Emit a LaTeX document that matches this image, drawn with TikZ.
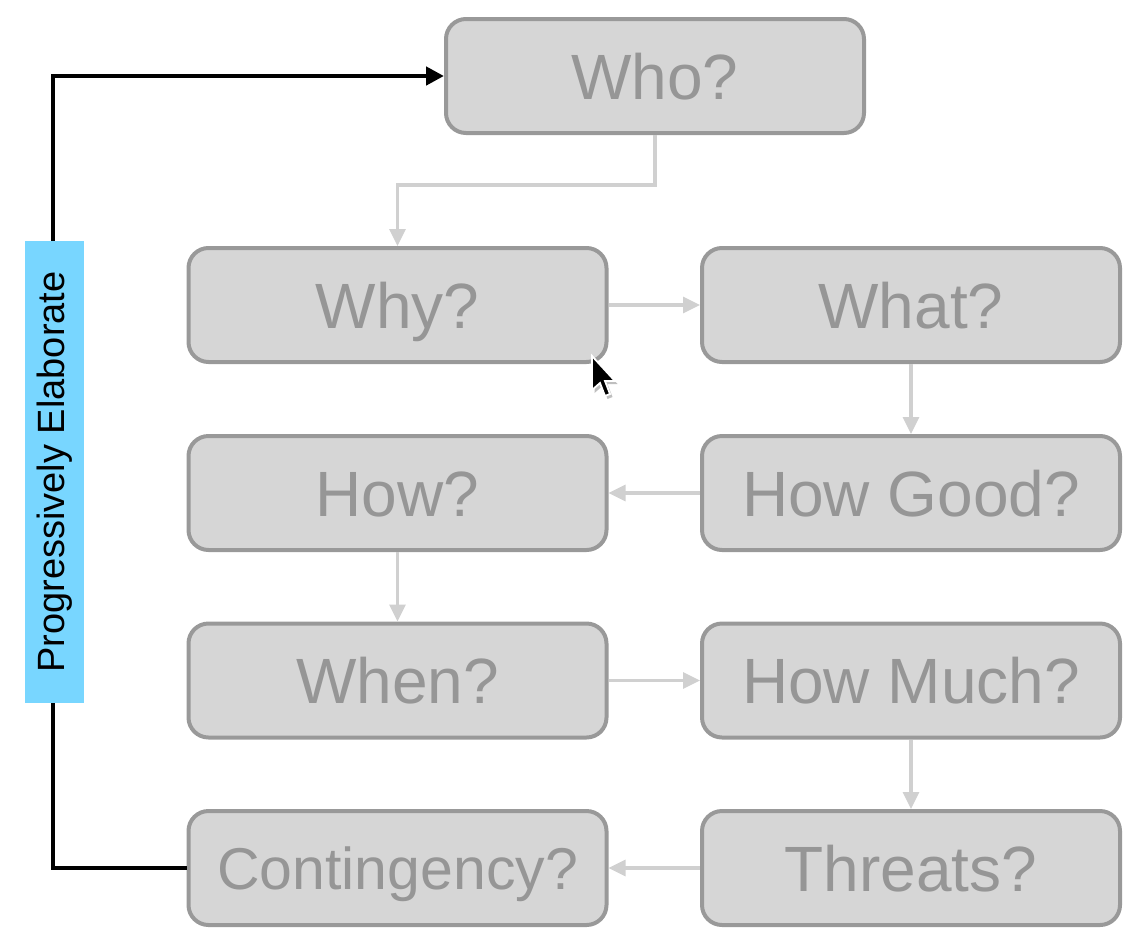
\documentclass[tikz,border=0pt]{standalone}
\usepackage{fontspec}
\setmainfont{Liberation Sans}
\usetikzlibrary{arrows.meta}
\definecolor{boxfill}{RGB}{214,214,214}
\definecolor{boxline}{RGB}{153,153,153}
\definecolor{boxtext}{RGB}{150,150,150}
\definecolor{conn}{RGB}{208,208,208}
\definecolor{labelblue}{RGB}{120,214,255}
\tikzset{
  qbox/.style={draw=boxline, fill=boxfill, line width=4pt, rounded corners=20pt,
    minimum width=418pt, minimum height=114pt, inner sep=0pt, text=boxtext,
    text height=46pt, text depth=0pt,
    font=\fontsize{64}{70}\selectfont},
  flow/.style={draw=conn, line width=3.2pt, -{Triangle[length=17pt,width=16pt]}},
  loopline/.style={draw=black, line width=4.5pt, -{Triangle[length=18pt,width=18pt]}},
  vlabel/.style={fill=labelblue, rotate=90, minimum width=462pt, minimum height=59pt,
    inner sep=0pt, font=\fontsize{38}{42}\selectfont, text=black}
}
\begin{document}
\begin{tikzpicture}[x=1pt,y=-1pt]
\useasboundingbox (0,0) rectangle (1145,948);
\node[qbox] (who) at (655,76) {Who?};
\node[qbox] (why) at (397.5,305) {Why?};
\node[qbox] (what) at (911,305) {What?};
\node[qbox] (how) at (397.5,493) {How?};
\node[qbox] (hgood) at (911,493) {How Good?};
\node[qbox] (when) at (397.5,680.5) {When?};
\node[qbox] (hmuch) at (911,680.5) {How Much?};
\node[qbox, font=\fontsize{59}{64}\selectfont, text height=42.5pt] (cont) at (397.5,868) {Contingency?};
\node[qbox] (threats) at (911,868) {Threats?};
\coordinate (w1) at (655,185);
\draw[flow] (who.south) -- (w1) -| (why.north);
\draw[flow] (why.east) -- (what.west);
\draw[flow] (what.south) -- (hgood.north);
\draw[flow] (hgood.west) -- (how.east);
\draw[flow] (how.south) -- (when.north);
\draw[flow] (when.east) -- (hmuch.west);
\draw[flow] (hmuch.south) -- (threats.north);
\draw[flow] (threats.west) -- (cont.east);
\coordinate (bl) at (53,868);
\coordinate (tl) at (53,76);
\draw[loopline] (cont.west) -- (bl) -- (tl) -- (who.west);
\node[vlabel] (lab) at (54.5,472) {Progressively Elaborate};
% mouse pointer
\fill[black, opacity=0.25] (594.5,359) -- (594.5,393) -- (602.5,386) -- (607.5,399) -- (612.5,397) -- (607.5,384) -- (617.5,384) -- cycle;
\filldraw[fill=black, draw=white, line width=1.8pt, line join=miter] (592,356) -- (592,390) -- (600,383) -- (605,396) -- (610,394) -- (605,381) -- (615,381) -- cycle;
\end{tikzpicture}
\end{document}
